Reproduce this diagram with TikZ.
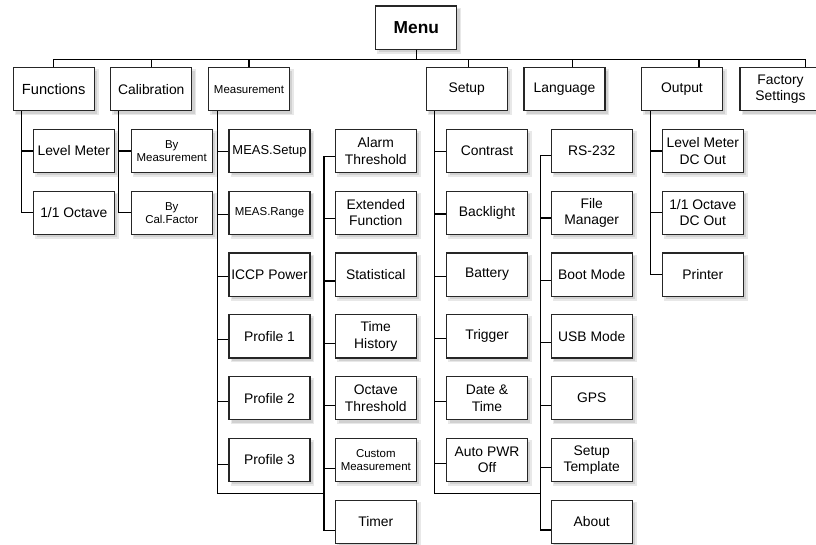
\documentclass[tikz,border=0pt]{standalone}
\usepackage{fontspec}
\setmainfont{Liberation Sans}
\usetikzlibrary{calc,backgrounds}
\newcommand*{\txtBig}{\fontsize{10.4}{12.2}\selectfont}
\newcommand*{\txtMid}{\fontsize{9.7}{11}\selectfont}
\newcommand*{\txtSmall}{\fontsize{8.6}{9.8}\selectfont}
\newcommand*{\rowTop}{151}
\newcommand*{\rowGap}{61.8}

\tikzset{
  box/.style={draw=black!85, line width=0.9pt, fill=white, align=center, inner sep=1pt,
    minimum width=60.75pt, minimum height=32.4pt, font=\txtBig},
  mbox/.style={box, font=\txtMid},
  sbox/.style={box, font=\txtSmall},
  link/.style={line width=0.9pt, black},
  shade box/.style={fill=black!18, draw=black!9, line width=1.2pt}
}

\begin{document}
\begin{tikzpicture}[x=0.75pt,y=-0.75pt]
\useasboundingbox (0,0) rectangle (816,544);

% top row
\node[box, font=\bfseries\fontsize{13}{15}\selectfont] (menu) at (416.3,27.5) {Menu};
\foreach \n/\x/\s/\t in {fun/53.7/box/\fontsize{11}{13}\selectfont Functions, cal/151.3/box/Calibration,
    mea/249/sbox/Measurement, set/466.7/box/Setup, lan/564.5/box/Language, out/682/box/Output,
    fac/780.5/box/Factory\\Settings}
  \node[\s] (\n) at (\x,89.2) {\t};

\coordinate (bus) at ($(menu.south)+(0,9.7)$);
\draw[link] (menu.south) -- (bus);
\foreach \n/\dx in {fun/0,cal/0,mea/0,set/1.6,lan/8,out/17,fac/25} {
  \coordinate (\n-t) at ($(\n.north)+(\dx,0)$);
  \draw[link] (\n-t) -- (\n-t |- bus);
}
\draw[link] (fun-t |- bus) -- (fac-t |- bus);

% Functions
\coordinate (fun-p) at ($(fun.south west)+(8.7,0)$);
\foreach \t [count=\i] in {Level Meter,1/1 Octave} {
  \node[box] (fun-\i) at (73.8,{\rowTop+\rowGap*(\i-1)}) {\t};
  \draw[link] (fun-p) |- (fun-\i.west);
}

% Calibration
\coordinate (cal-p) at ($(cal.south west)+(8.3,0)$);
\foreach \t [count=\i] in {By\\Measurement,By\\Cal.Factor} {
  \node[sbox] (cal-\i) at (171.7,{\rowTop+\rowGap*(\i-1)}) {\t};
  \draw[link] (cal-p) |- (cal-\i.west);
}

% Measurement
\coordinate (mea-p) at ($(mea.south west)+(9.6,0)$);
\foreach \s/\t [count=\i] in {mbox/MEAS.Setup,sbox/MEAS.Range,box/ICCP Power,box/Profile 1,box/Profile 2,box/Profile 3} {
  \node[\s] (mea-\i) at (269.5,{\rowTop+\rowGap*(\i-1)}) {\t};
  \draw[link] (mea-p) |- ($(mea-\i.west)+(0,{0.7*\i})$);
}
\coordinate (mea-j) at ($(mea-6.south east)+(13.3,11)$);
\draw[link] (mea-p) |- (mea-j);
\foreach \s/\t [count=\i] in {box/Alarm\\Threshold,box/Extended\\Function,box/Statistical,box/Time\\History,
    box/Octave\\Threshold,sbox/Custom\\Measurement,box/Timer} {
  \node[\s] (meb-\i) at (375.8,{\rowTop+\rowGap*(\i-1)}) {\t};
  \draw[link] (mea-j) |- ($(meb-\i.west)+(0,{4.5+0.6*\i})$);
}

% Setup
\coordinate (set-p) at ($(set.south west)+(9,0)$);
\foreach \t [count=\i] in {Contrast,Backlight,Battery,Trigger,Date \&\\Time,Auto PWR\\Off} {
  \node[box] (set-\i) at (487,{\rowTop+\rowGap*(\i-1)}) {\t};
  \draw[link] (set-p) |- ($(set-\i.west)+(0,{0.6*\i})$);
}
\coordinate (set-j) at ($(set-6.south east)+(12.3,11)$);
\draw[link] (set-p) |- (set-j);
\foreach \t [count=\i] in {RS-232,File\\Manager,Boot Mode,USB Mode,GPS,Setup\\Template,About} {
  \node[box] (seb-\i) at (591.7,{\rowTop+\rowGap*(\i-1)}) {\t};
  \draw[link] (set-j) |- ($(seb-\i.west)+(0,{4+0.6*\i})$);
}

% Output
\coordinate (out-p) at ($(out.south west)+(9.7,0)$);
\foreach \t [count=\i] in {Level Meter\\DC Out,1/1 Octave\\DC Out,Printer} {
  \node[box] (out-\i) at (702.8,{\rowTop+\rowGap*(\i-1)}) {\t};
  \draw[link] (out-p) |- (out-\i.west);
}

% soft shadows behind the boxes
\begin{pgfonlayer}{background}
  \foreach \n in {menu,fun,cal,mea,set,lan,out,fac}
    \path[shade box] ($(\n.north west)+(3,3)$) rectangle ($(\n.south east)+(3,3)$);
  \foreach \n/\k in {fun/2,cal/2,mea/6,meb/7,set/6,seb/7,out/3}
    \foreach \i in {1,...,\k}
      \path[shade box] ($(\n-\i.north west)+(3,3)$) rectangle ($(\n-\i.south east)+(3,3)$);
\end{pgfonlayer}

\end{tikzpicture}
\end{document}
